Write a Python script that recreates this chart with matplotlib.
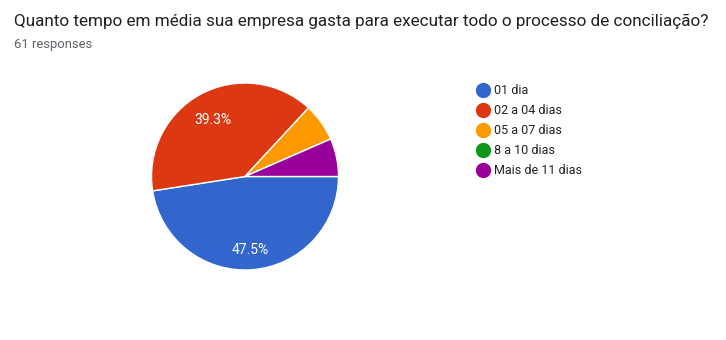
import matplotlib.pyplot as plt
from matplotlib.lines import Line2D

plt.rcParams['font.family'] = ['Roboto', 'DejaVu Sans']

title = "Quanto tempo em média sua empresa gasta para executar todo o processo de conciliação?"
subtitle = "61 responses"
labels = ["01 dia", "02 a 04 dias", "05 a 07 dias", "8 a 10 dias", "Mais de 11 dias"]
counts = [29, 24, 4, 0, 4]
colors = ["#3366cc", "#dc3912", "#ff9900", "#109618", "#990099"]

W, H = 726, 340
fig = plt.figure(figsize=(W / 100, H / 100), dpi=100)

# pie box in pixels: centre (245, 176.5), radius 93.5
cx, cy, r = 245, 176.5, 93.5
ax = fig.add_axes([(cx - r) / W, (H - cy - r) / H, 2 * r / W, 2 * r / H])

wedges, texts, autotexts = ax.pie(
    counts, colors=colors, startangle=0, counterclock=False,
    autopct=lambda p: f"{p:.1f}%" if p > 10 else "",
    pctdistance=0.74, radius=1,
    wedgeprops=dict(edgecolor="white", linewidth=1),
    textprops=dict(color="white", fontsize=10))
# google puts the labels a little lower
for t in autotexts:
    x, y = t.get_position()
    t.set_position((x, y - 0.045))
ax.set_xlim(-1, 1)
ax.set_ylim(-1, 1)
ax.set_aspect("equal")
ax.axis("off")

fig.text(14 / W, 1 - 26 / H, title, fontsize=12.35, color="#202124", va="baseline")
fig.text(14 / W, 1 - 48 / H, subtitle, fontsize=9.4, color="#5f6368", va="baseline")

handles = [Line2D([], [], marker="o", ls="", color=c, markersize=10) for c in colors]
leg = fig.legend(handles, labels, loc="upper left", bbox_to_anchor=(469 / W, 1 - 79 / H),
                 frameon=False, fontsize=9, handletextpad=0.1, labelspacing=0.57,
                 handlelength=1.5, borderaxespad=0)
for t in leg.get_texts():
    t.set_color("#222222")

fig.savefig("out.png", dpi=100)
